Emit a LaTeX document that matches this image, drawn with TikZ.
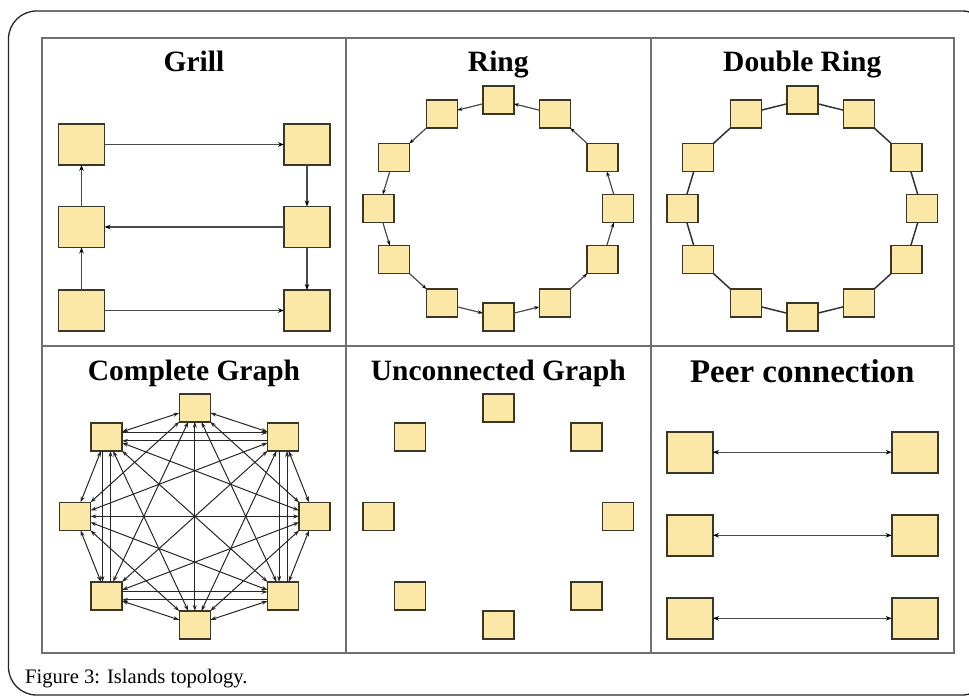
\documentclass[tikz,border=0pt]{standalone}
\usepackage{fontspec}
\setmainfont{Liberation Serif}
\usetikzlibrary{arrows.meta,calc}
\definecolor{boxfill}{HTML}{FCE8A6}
\definecolor{boxline}{HTML}{3A3628}
\definecolor{gridline}{HTML}{707070}
\definecolor{wire}{HTML}{4A4A4A}
\begin{document}
\begin{tikzpicture}[x=1pt,y=-1pt,
  bigsq/.style={draw=boxline,fill=boxfill,line width=1.6pt,minimum width=46pt,minimum height=41pt,inner sep=0pt,outer sep=0pt},
  smallsq/.style={bigsq,minimum width=31pt,minimum height=28pt},
  paneltitle/.style={font=\bfseries\fontsize{29.5}{30}\selectfont,anchor=base,inner sep=0pt},
  arr/.style={draw=wire,line width=1.2pt,-{Stealth[length=6pt,width=4.5pt,color=black]}},
  arrboth/.style={draw=wire,line width=1.2pt,{Stealth[length=6pt,width=4.5pt,color=black]}-{Stealth[length=6pt,width=4.5pt,color=black]}},
  ringarr/.style={draw=wire,line width=1.2pt,-{Stealth[length=5pt,width=3.5pt,color=black]}},
  ringline/.style={draw=black!80,line width=1.5pt},
  cedge/.style={draw=black!85,line width=1pt,-{Stealth[length=6pt,width=4pt]}},
  cboth/.style={draw=black!85,line width=1pt,{Stealth[length=6pt,width=4pt]}-{Stealth[length=6pt,width=4pt]}},
]
\useasboundingbox (0,0) rectangle (969,696);
\clip (0,0) rectangle (969,696);

% page frame
\draw[line width=1.3pt,black!85,rounded corners=28pt] (8.5,11) rectangle (990,695);

% panel grid
\draw[gridline,line width=1.8pt] (41.7,38) rectangle (954,653);
\draw[gridline,line width=1.8pt] (346,38) -- (346,653);
\draw[gridline,line width=1.8pt] (650.7,38) -- (650.7,653);
\draw[gridline,line width=1.8pt] (41.7,346) -- (954,346);

% titles
\node[paneltitle] (tgrill) at (194,71) {Grill};
\node[paneltitle] (tring) at (498.3,71) {Ring};
\node[paneltitle] (tdring) at (802.3,71) {Double Ring};
\node[paneltitle] (tcomp) at (194,380) {Complete Graph};
\node[paneltitle] (tunc) at (498.3,380) {Unconnected Graph};
\node[paneltitle,font=\bfseries\fontsize{33}{34}\selectfont] (tpeer) at (802.3,382.5) {Peer connection};

% ---- Grill ----
\node[bigsq] (g1) at (81.5,144.5) {};
\node[bigsq] (g2) at (307,144.5) {};
\node[bigsq] (g3) at (81.5,227) {};
\node[bigsq] (g4) at (307,227) {};
\node[bigsq] (g5) at (81.5,310.5) {};
\node[bigsq] (g6) at (307,310.5) {};
\draw[arr] (g1) -- (g2);
\draw[arr] (g2) -- (g4);
\draw[arr] (g4) -- (g3);
\draw[arr] (g4) -- (g6);
\draw[arr] (g5) -- (g3);
\draw[arr] (g3) -- (g1);
\draw[arr] (g5) -- (g6);

% ---- Ring and Double Ring ----
\foreach \n/\dx/\dy in {0/119.7/0,1/104.3/-51,2/56.5/-94.5,3/0/-108.5,4/-56.5/-94.5,5/-104.3/-51,
                        6/-119.7/0,7/-104.3/51,8/-56.5/94.5,9/0/108.5,10/56.5/94.5,11/104.3/51}{
  \node[smallsq] (r\n) at ({498.3+(\dx)},{208.5+(\dy)}) {};
  \node[smallsq] (d\n) at ({802.3+(\dx)},{208.5+(\dy)}) {};
}
\foreach \i in {0,...,11}{
  \pgfmathtruncatemacro{\j}{mod(\i+1,12)}
  \draw[ringarr] (r\i) -- (r\j);
  \draw[ringline] (d\i) -- (d\j);
}

% ---- Complete Graph and Unconnected Graph ----
\foreach \n/\dx/\dy in {0/119.8/0,1/88.3/-79.5,2/0/-108.6,3/-88.3/-79.5,
                        4/-119.8/0,5/-88.3/79.5,6/0/108.6,7/88.3/79.5}{
  \node[smallsq] (c\n) at ({194.8+(\dx)},{516.4+(\dy)}) {};
  \node[smallsq] (u\n) at ({498.3+(\dx)},{516.4+(\dy)}) {};
}
\foreach \i in {0,...,6}{
  \pgfmathtruncatemacro{\s}{\i+1}
  \foreach \j in {\s,...,7}{
    \pgfmathtruncatemacro{\twin}{(mod(\i,2)==1)*(mod(\j,2)==1)*((\j-\i)!=4)}
    \ifnum\twin=0 \draw[cboth] (c\i) -- (c\j);\fi
  }
}
% pairs drawn as two opposite edges
\draw[cedge] ([yshift=4pt]c3.east) -- ([yshift=4pt]c1.west);
\draw[cedge] ([yshift=-4pt]c1.west) -- ([yshift=-4pt]c3.east);
\draw[cedge] ([yshift=4pt]c5.east) -- ([yshift=4pt]c7.west);
\draw[cedge] ([yshift=-4pt]c7.west) -- ([yshift=-4pt]c5.east);
\draw[cedge] ([xshift=-4pt]c3.south) -- ([xshift=-4pt]c5.north);
\draw[cedge] ([xshift=4pt]c5.north) -- ([xshift=4pt]c3.south);
\draw[cedge] ([xshift=-4pt]c1.south) -- ([xshift=-4pt]c7.north);
\draw[cedge] ([xshift=4pt]c7.north) -- ([xshift=4pt]c1.south);

% ---- Peer connection ----
\foreach \k/\y in {1/452.2,2/535.3,3/618.3}{
  \node[bigsq] (pl\k) at (690,\y) {};
  \node[bigsq] (pr\k) at (914.7,\y) {};
  \draw[arrboth] (pl\k) -- (pr\k);
}

% caption
\node[anchor=base west,inner sep=0pt,font=\fontsize{20.6}{22}\selectfont] (cap) at (25,683) {Figure 3: Islands topology.};
\end{tikzpicture}
\end{document}
